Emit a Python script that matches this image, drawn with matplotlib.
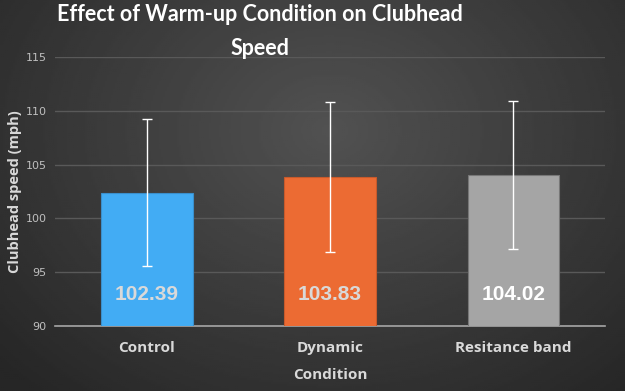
import numpy as np
import matplotlib.pyplot as plt

conditions = ['Control', 'Dynamic', 'Resitance band']
speeds = [102.39, 103.83, 104.02]
errors = [6.83, 6.97, 6.90]
colors = ['#42ACF4', '#EC6B33', '#A5A5A5']
label_colors = ['#d9d9d9', '#d9d9d9', '#ffffff']
yticks = [90, 95, 100, 105, 110, 115]

fig = plt.figure(figsize=(6.25, 3.91), dpi=100)

# radial gradient background
bg = fig.add_axes([0, 0, 1, 1])
xx, yy = np.meshgrid(np.linspace(0, 625, 313), np.linspace(0, 391, 196))
r = np.sqrt(((xx - 330) / 420) ** 2 + ((yy - 130) / 330) ** 2)
shade = np.clip(0.32 - 0.16 * r, 0.15, 0.32)
bg.imshow(shade, cmap='gray', vmin=0, vmax=1, extent=[0, 625, 391, 0], aspect='auto')
bg.axis('off')

ax = fig.add_axes([0.088, 0.166, 0.88, 0.688])
ax.patch.set_alpha(0)
x = np.arange(len(conditions))
ax.bar(x, speeds, width=0.5, color=colors, edgecolor=['#3a8fcc', '#c85a2b', '#777777'],
       linewidth=0.8, zorder=3)
ax.errorbar(x, speeds, yerr=errors, fmt='none', ecolor='white', elinewidth=1,
            capsize=3.5, capthick=1, zorder=4)
for xi, v, c in zip(x, speeds, label_colors):
    ax.text(xi, 92.9, f'{v:.2f}', ha='center', va='center', color=c,
            fontsize=15, fontweight='bold', family='Liberation Sans', zorder=5)

ax.set_ylim(90, 115)
ax.set_xlim(-0.5, 2.5)
ax.set_yticks(yticks)
ax.grid(axis='y', color='#595959', linewidth=1, zorder=0)
for s in ['top', 'right', 'left']:
    ax.spines[s].set_visible(False)
ax.spines['bottom'].set_color('#a6a6a6')
ax.spines['bottom'].set_linewidth(1.2)
ax.tick_params(axis='both', length=0)
ax.tick_params(axis='y', colors='#bfbfbf', labelsize=8, pad=6)
ax.set_xticks(x)
ax.set_xticklabels(conditions, color='#d9d9d9', fontsize=11, fontweight='bold',
                   family='Open Sans')
ax.tick_params(axis='x', pad=11)
ax.set_xlabel('Condition', color='#d9d9d9', fontsize=11, fontweight='bold',
              family='Open Sans', labelpad=9)
ax.set_ylabel('Clubhead speed (mph)', color='#d9d9d9', fontsize=10.5, fontweight='bold',
              family='Open Sans', labelpad=3)

fig.text(0.416, 0.99, 'Effect of Warm-up Condition on Clubhead\nSpeed', ha='center', va='top',
         color='white', fontsize=15.5, fontweight='bold', family='Lato', linespacing=1.75)

fig.savefig('out.png', dpi=100)
